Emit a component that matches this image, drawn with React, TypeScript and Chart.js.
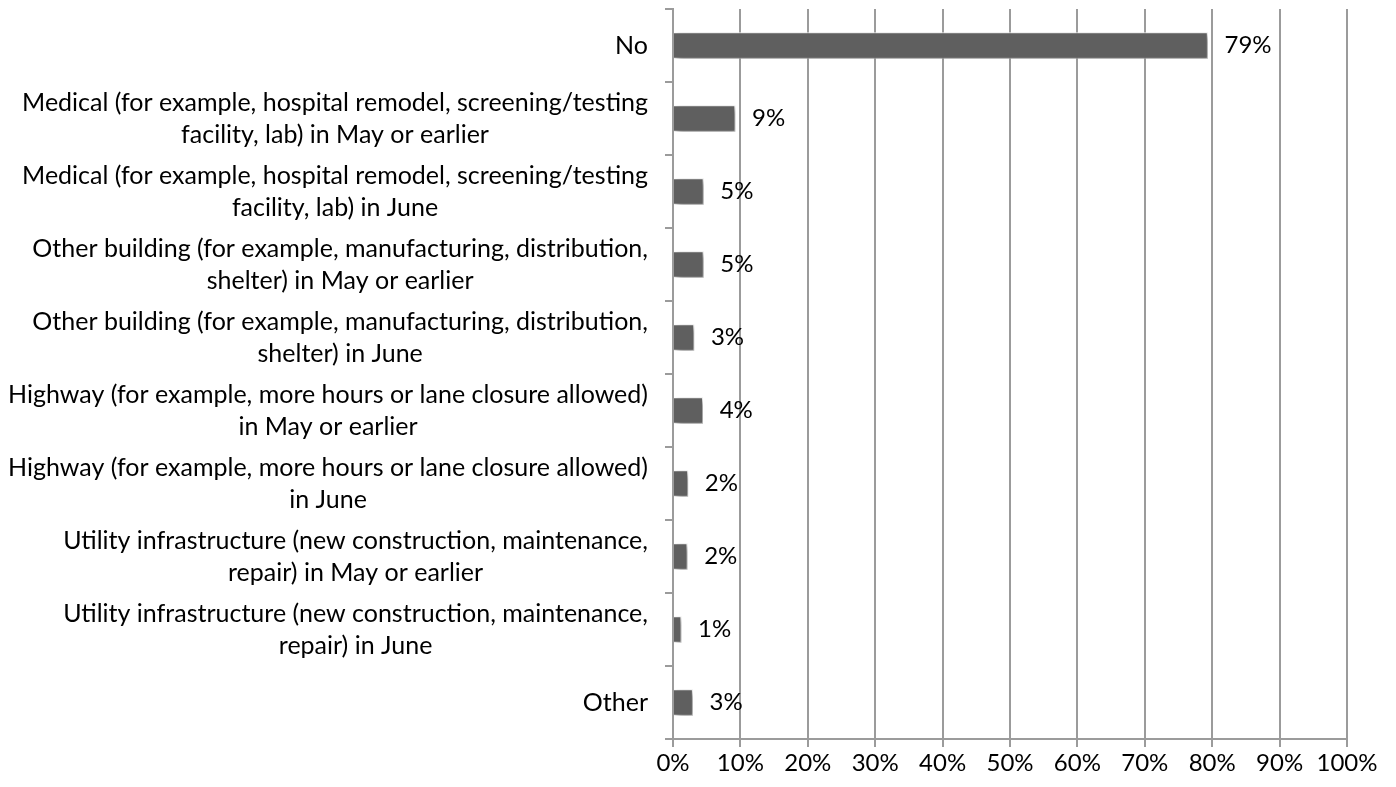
import React, { useEffect, useRef } from 'react';
import { Chart, registerables } from 'chart.js';

Chart.register(...registerables);

const categories: string[][] = [
  ['No'],
  ['Medical (for example, hospital remodel, screening/testing', 'facility, lab) in May or earlier'],
  ['Medical (for example, hospital remodel, screening/testing', 'facility, lab) in June'],
  ['Other building (for example, manufacturing, distribution,', 'shelter) in May or earlier'],
  ['Other building (for example, manufacturing, distribution,', 'shelter) in June'],
  ['Highway (for example, more hours or lane closure allowed)', 'in May or earlier'],
  ['Highway (for example, more hours or lane closure allowed)', 'in June'],
  ['Utility infrastructure (new construction, maintenance,', 'repair) in May or earlier'],
  ['Utility infrastructure (new construction, maintenance,', 'repair) in June'],
  ['Other'],
];

const values: number[] = [79.3, 9.2, 4.5, 4.5, 3.1, 4.4, 2.2, 2.1, 1.2, 2.9];
const valueLabels: string[] = ['79%', '9%', '5%', '5%', '3%', '4%', '2%', '2%', '1%', '3%'];
const xTickValues: number[] = [0, 10, 20, 30, 40, 50, 60, 70, 80, 90, 100];

const FONT_FAMILY = 'Lato';
const CAT_FONT_SIZE = 25;
const NUM_FONT_SIZE = 24;
const LINE_H = 32;
const AXIS_COLOR = '#9b9b9b';

const barShadow = {
  id: 'barShadow',
  beforeDatasetsDraw(chart: any) {
    const ctx = chart.ctx;
    ctx.save();
    ctx.shadowColor = 'rgba(0,0,0,0.45)';
    ctx.shadowBlur = 6;
    ctx.shadowOffsetX = 3;
    ctx.shadowOffsetY = 3;
  },
  afterDatasetsDraw(chart: any) {
    chart.ctx.restore();
  },
};

const textLabels = {
  id: 'textLabels',
  afterDraw(chart: any) {
    const ctx = chart.ctx;
    const ys = chart.scales.y;
    const xs = chart.scales.x;
    ctx.save();
    ctx.fillStyle = '#000000';
    ctx.textBaseline = 'middle';
    const right = chart.chartArea.left - 25;
    categories.forEach((lines, i) => {
      const cy = ys.getPixelForValue(i);
      ctx.font = `${CAT_FONT_SIZE}px ${FONT_FAMILY}`;
      const w = Math.max(...lines.map((l) => ctx.measureText(l).width));
      const cx = right - w / 2;
      ctx.textAlign = 'center';
      lines.forEach((l, j) => {
        ctx.fillText(l, cx, cy + (j - (lines.length - 1) / 2) * LINE_H);
      });
      ctx.font = `${NUM_FONT_SIZE}px ${FONT_FAMILY}`;
      ctx.textAlign = 'left';
      ctx.fillText(valueLabels[i], xs.getPixelForValue(values[i]) + 17, cy);
    });
    ctx.restore();
  },
};

export default function App() {
  const ref = useRef<HTMLCanvasElement | null>(null);
  useEffect(() => {
    document.body.style.margin = '0';
    if (!ref.current) return;
    const chart = new Chart(ref.current, {
      type: 'bar',
      data: {
        labels: categories,
        datasets: [
          {
            data: values,
            backgroundColor: '#5f5f5f',
            borderColor: '#ffffff',
            borderWidth: 1,
            barThickness: 26,
          },
        ],
      },
      options: {
        indexAxis: 'y',
        animation: false,
        responsive: true,
        maintainAspectRatio: false,
        layout: { padding: { top: 9, right: 49, left: 0, bottom: 0 } },
        plugins: {
          legend: { display: false },
          tooltip: { enabled: false },
        },
        scales: {
          x: {
            min: 0,
            max: 100,
            afterFit: (s: any) => {
              s.height = 48;
            },
            afterBuildTicks: (s: any) => {
              s.ticks = xTickValues.map((v) => ({ value: v }));
            },
            ticks: {
              callback: (v: any) => `${v}%`,
              color: '#000000',
              font: { family: FONT_FAMILY, size: NUM_FONT_SIZE },
              padding: 2,
              maxRotation: 0,
              autoSkip: false,
            },
            grid: { color: AXIS_COLOR, lineWidth: 2, tickLength: 8 },
            border: { color: AXIS_COLOR, width: 2 },
          },
          y: {
            type: 'category',
            offset: true,
            afterFit: (s: any) => {
              s.width = 673;
            },
            ticks: { display: false },
            grid: {
              offset: true,
              drawOnChartArea: false,
              tickLength: 8,
              color: AXIS_COLOR,
              lineWidth: 2,
            },
            border: { color: AXIS_COLOR, width: 2 },
          },
        },
      },
      plugins: [barShadow, textLabels],
    });
    return () => chart.destroy();
  }, []);
  return (
    <div style={{ width: '1396px', height: '787px', position: 'relative' }}>
      <canvas ref={ref} />
    </div>
  );
}
